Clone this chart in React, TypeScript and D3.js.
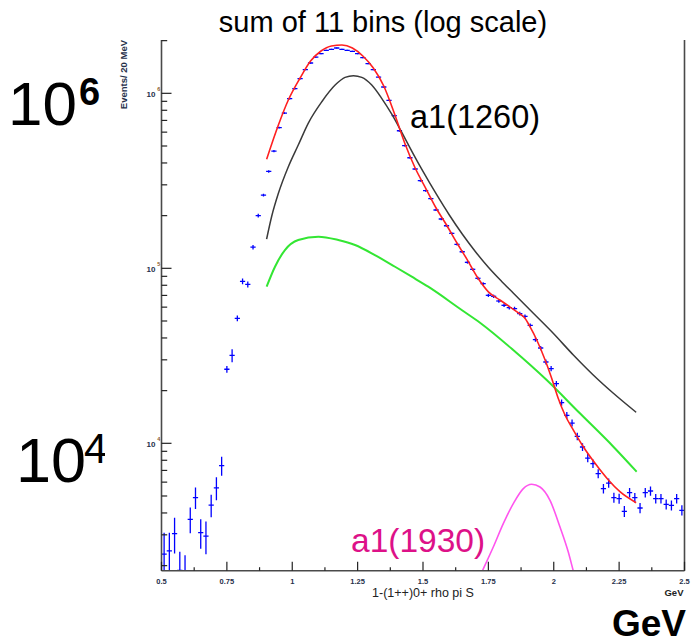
import React from 'react';
import * as d3 from 'd3';

// ---- histogram: 1-(1++)0+ rho pi S, 20 MeV bins from 0.5 to 2.5 GeV ----
const BIN_LOW = 0.5;
const BIN_WIDTH = 0.02;

const events = [
  2324, 2427, 3050, 1880, 1700, 3680, 4900, 3090, 2950, 4430, 5560, 7450,
  26500, 31800, 51800, 84300, 81000, 132000, 200000, 262000, 358000, 468000,
  637000, 771000, 933000, 1064000, 1213000, 1366000, 1490000, 1611000, 1686000, 1761000,
  1784000, 1815000, 1784000, 1761000, 1738000, 1686000, 1600000, 1479000, 1366000, 1239000,
  1087000, 912000, 746000, 611000, 502000,
  428500, 369400, 316700, 277600, 249900, 215400, 191300, 175100, 158500, 137100,
  124400, 108200, 98700, 87700,
  81750, 70100, 69200, 65040, 61460, 59620, 58850, 55100, 53180, 47240,
  39140, 35040, 29150, 26730, 21940, 17090, 14450, 13060, 10960, 9525,
  8240, 7656, 6712, 5510, 5930, 4895, 4830, 4088, 5227, 4895,
  4270, 5227, 5338, 4830, 4830, 4481, 4423, 4830, 4142,
];

const errors = [
  760, 660, 700, 520, 590, 620, 690, 590, 630, 650, 830, 930,
  1200, 2700, 2000, 3300, 3200, 4000, 5000, 5000, 6000, 7000,
  8000, 9000, 10000, 11000, 12000, 13000, 13000, 14000, 14000, 14000,
  14000, 14000, 14000, 14000, 14000, 13000, 13000, 12000, 12000, 11000,
  10000, 9000, 8000, 7000, 6000,
  5000, 4500, 4000, 3600, 3300, 3000, 2800, 2600, 2400, 2200,
  2000, 1900, 1800, 1700,
  1600, 1500, 1500, 1400, 1400, 1400, 1400, 1300, 1300, 1200,
  1100, 1000, 950, 900, 800, 700, 650, 600, 550, 500,
  450, 420, 400, 350, 360, 320, 320, 300, 320, 300,
  290, 320, 320, 300, 300, 290, 290, 300, 280,
];

// ---- fit curves ----
const totalFitMass = [0.902, 0.947, 0.985, 1.03, 1.07, 1.11, 1.15, 1.19, 1.23, 1.27, 1.31, 1.35, 1.39, 1.43,
  1.47, 1.51, 1.55, 1.59, 1.63, 1.67, 1.71, 1.75, 1.794, 1.858, 1.89, 1.909, 1.935, 1.967, 1.992,
  2.017, 2.043, 2.075, 2.113, 2.158, 2.209, 2.253, 2.315];
const totalFitValue = [419800, 659000, 915600, 1223000, 1530000, 1745000, 1864000, 1888000, 1815000, 1634000,
  1395000, 1101000, 771800, 520000, 374300, 287700, 221100, 176800, 139500, 111500, 88000, 73400, 65900,
  56490, 51800, 46380, 38950, 29920, 23520, 18080, 14510, 11910, 9563, 7686, 6170, 5289, 4578];

const a1260Mass = [0.902, 0.921, 0.947, 0.985, 1.023, 1.061, 1.113, 1.164, 1.202, 1.234, 1.266, 1.304, 1.342,
  1.380, 1.42, 1.46, 1.50, 1.55, 1.60, 1.65, 1.70, 1.75, 1.80, 1.845, 1.922, 1.998, 2.075, 2.151,
  2.228, 2.315];
const a1260Value = [147000, 197200, 268300, 380700, 506500, 674000, 895400, 1115000, 1234000, 1260000, 1234000,
  1115000, 936400, 762000, 593900, 458800, 357900, 266900, 202400, 157100, 124800, 101400, 84400, 72240,
  55340, 42530, 31960, 24570, 19310, 15040];

const greenMass = [0.902, 0.934, 0.972, 1.023, 1.100, 1.176, 1.240, 1.316, 1.393, 1.457, 1.520, 1.648, 1.718,
  1.845, 1.973, 2.100, 2.228, 2.317];
const greenValue = [78500, 102100, 127200, 145100, 151600, 145100, 135900, 119100, 102100, 89540, 78500,
  57780, 48880, 34140, 22990, 14840, 9563, 6882];

const a1930Mass = [1.70, 1.7268, 1.7688, 1.807, 1.8453, 1.8836, 1.9157, 1.9474, 1.9857, 2.0239, 2.0556, 2.0748, 2.10];
const a1930Value = [1525, 1864, 2555, 3476, 4523, 5510, 5831, 5628, 4722, 3324, 2392, 1864, 1350];

// ---- axes ----
const xTicks = [0.5, 0.75, 1, 1.25, 1.5, 1.75, 2, 2.25, 2.5];
const xTickLabels = ['0.5', '0.75', '1', '1.25', '1.5', '1.75', '2', '2.25', '2.5'];
const xMinorTicks = [0.625, 0.875, 1.125, 1.375, 1.625, 1.875, 2.125, 2.375];
const yDomain = [1871, 2.017e6];

const FONT = 'Liberation Sans, Arial, Helvetica, sans-serif';

export default function App() {
  const W = 692, H = 643;
  const left = 161.5, right = 684.5, top = 40, bottom = 570.7;
  const x = d3.scaleLinear().domain([0.5, 2.5]).range([left, right]);
  const y = d3.scaleLog().domain(yDomain).range([bottom, top]);

  const line = d3.line<[number, number]>()
    .x(d => x(d[0]))
    .y(d => y(d[1]))
    .curve(d3.curveMonotoneX);

  const zip = (a: number[], b: number[]) => a.map((m, i) => [m, b[i]] as [number, number]);

  const yTicks = y.ticks().filter(t => t >= yDomain[0] && t <= yDomain[1]);
  const isMajor = (t: number) => Math.abs(Math.log10(t) - Math.round(Math.log10(t))) < 1e-9;

  const axisColor = '#4a4a4a';
  const labelColor = '#26304a';

  return (
    <svg width={W} height={H} style={{ position: 'absolute', left: 0, top: 0, background: '#fff' }}
      fontFamily={FONT}>
      <defs>
        <clipPath id="plot">
          <rect x={left} y={top} width={right - left} height={bottom - top} />
        </clipPath>
        <clipPath id="sup4">
          <rect x={0} y={400} width={105} height={120} />
        </clipPath>
      </defs>

      {/* data points */}
      <g clipPath="url(#plot)" stroke="#0000ff" strokeWidth={1.3}>
        {events.map((v, i) => {
          const m = BIN_LOW + BIN_WIDTH * (i + 0.5);
          const e = errors[i];
          const lo = Math.max(v - e, 1);
          return (
            <g key={i}>
              <line x1={x(m - BIN_WIDTH / 2)} x2={x(m + BIN_WIDTH / 2)} y1={y(v)} y2={y(v)} />
              <line x1={x(m)} x2={x(m)} y1={y(v + e)} y2={y(lo)} />
            </g>
          );
        })}
      </g>

      {/* curves */}
      <g clipPath="url(#plot)" fill="none">
        <path d={line(zip(greenMass, greenValue)) || ''} stroke="#33e633" strokeWidth={2} />
        <path d={line(zip(a1260Mass, a1260Value)) || ''} stroke="#3a3a3a" strokeWidth={1.5} />
        <path d={line(zip(a1930Mass, a1930Value)) || ''} stroke="#ff55ee" strokeWidth={1.6} />
        <path d={line(zip(totalFitMass, totalFitValue)) || ''} stroke="#ff2020" strokeWidth={1.6} />
      </g>

      {/* frame */}
      <g stroke={axisColor} strokeWidth={1.6}>
        <line x1={left} x2={left} y1={top} y2={bottom} />
        <line x1={left} x2={right} y1={bottom} y2={bottom} />
        <line x1={right} x2={right} y1={top} y2={bottom} />
      </g>

      {/* x ticks */}
      <g stroke="#222" strokeWidth={1.2}>
        {xTicks.map(t => (
          <line key={'M' + t} x1={x(t)} x2={x(t)} y1={bottom} y2={bottom - 9} />
        ))}
        {xMinorTicks.map(t => (
          <line key={'m' + t} x1={x(t)} x2={x(t)} y1={bottom} y2={bottom - 3.5} />
        ))}
      </g>
      <g fontSize={7.5} fontWeight="bold" fill={labelColor} textAnchor="middle">
        {xTicks.map((t, i) => (
          <text key={t} x={x(t)} y={584}>{xTickLabels[i]}</text>
        ))}
      </g>

      {/* y ticks */}
      <g stroke="#222" strokeWidth={1.2}>
        {yTicks.map(t => (
          <line key={t} x1={left} x2={left + (isMajor(t) ? 10 : 5.7)} y1={y(t)} y2={y(t)} />
        ))}
      </g>
      <g fill={labelColor} fontWeight="bold">
        {yTicks.filter(isMajor).map(t => (
          <g key={t}>
            <text x={155.5} y={y(t) + 3.5} fontSize={8} textAnchor="end">10</text>
            <text x={157.2} y={y(t) - 2.8} fontSize={5.5} fill="#8a5a2a">{Math.round(Math.log10(t))}</text>
          </g>
        ))}
      </g>

      {/* axis titles */}
      <text x={(left + right) / 2} y={596.5} fontSize={12.5} textAnchor="middle" fill="#222">1-(1++)0+ rho pi S</text>
      <text x={683.5} y={596} fontSize={9.5} fontWeight="bold" textAnchor="end" fill="#222">GeV</text>
      <text transform="translate(127,40) rotate(-90)" fontSize={9.5} fontWeight="bold" textAnchor="end"
        fill={labelColor}>Events/ 20 MeV</text>

      {/* overlay annotations */}
      <text x={383} y={32} fontSize={29} textAnchor="middle" fill="#000">sum of 11 bins (log scale)</text>
      <text x={410} y={127.5} fontSize={32.5} fill="#000">a1(1260)</text>
      <text x={351} y={552} fontSize={33.5} fill="#dd1188">a1(1930)</text>

      <text x={8} y={125} fontSize={62} fill="#000">10</text>
      <text x={79} y={105} fontSize={38} fontWeight="bold" fill="#000">6</text>

      <text x={16} y={482} fontSize={63} fill="#000">10</text>
      <text x={84} y={463} fontSize={42} fill="#000" clipPath="url(#sup4)">4</text>

      <text x={686} y={636} fontSize={37} fontWeight="bold" textAnchor="end" fill="#000">GeV</text>
    </svg>
  );
}
